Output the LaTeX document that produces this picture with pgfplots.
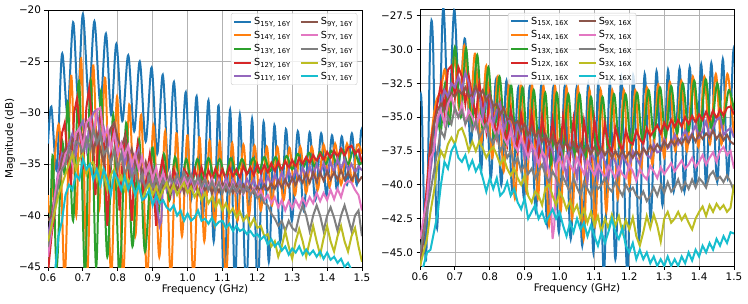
\documentclass[border=0pt]{standalone}
\usepackage{fontspec}
\setmainfont{DejaVu Sans}
\usepackage{pgfplots}
\pgfplotsset{compat=1.18}
\definecolor{c0}{HTML}{1F77B4}
\definecolor{c1}{HTML}{FF7F0E}
\definecolor{c2}{HTML}{2CA02C}
\definecolor{c3}{HTML}{D62728}
\definecolor{c4}{HTML}{9467BD}
\definecolor{c5}{HTML}{8C564B}
\definecolor{c6}{HTML}{E377C2}
\definecolor{c7}{HTML}{7F7F7F}
\definecolor{c8}{HTML}{BCBD22}
\definecolor{c9}{HTML}{17BECF}
\newcommand{\lab}[1]{S\textsubscript{#1}}
\pgfplotsset{
  myax/.style={
    scale only axis, width=314pt, height=257pt,
    xmin=0.6, xmax=1.5,
    xtick={0.6,0.7,0.8,0.9,1.0,1.1,1.2,1.3,1.4,1.5},
    xticklabels={0.6,0.7,0.8,0.9,1.0,1.1,1.2,1.3,1.4,1.5},
    xtick pos=lower, ytick pos=left, tick align=outside,
    major tick length=3.5pt,
    tick style={black, line width=0.8pt},
    axis line style={line width=0.8pt},
    grid=major, major grid style={color=black!30, line width=0.7pt},
    ticklabel style={font=\fontsize{10.4}{12}\selectfont},
    label style={font=\fontsize{10.4}{12}\selectfont},
    xlabel={Frequency (GHz)},
    xlabel style={yshift=4pt},
    every axis plot post/.append style={line width=2pt},
    legend cell align=left,
    legend columns=5, transpose legend,
    legend style={draw=black!20, rounded corners=2pt, fill=white, fill opacity=0.8, text opacity=1,
      font=\fontsize{9.7}{10.5}\selectfont, row sep=1pt, inner sep=2pt,
      /tikz/every even column/.append style={column sep=7pt}},
    legend image post style={line width=2pt},
  },
  sm/.style={smooth, tension=0.55},
}
\begin{document}
\begin{tikzpicture}
\useasboundingbox (0,0) rectangle (748pt,303pt);
% ================= LEFT =================
\begin{axis}[myax, at={(48pt,36pt)}, anchor=south west,
  ymin=-45, ymax=-20,
  ytick={-45,-40,-35,-30,-25,-20},
  yticklabels={−45,−40,−35,−30,−25,−20},
  ylabel={Magnitude (dB)}, ylabel style={yshift=-3pt},
  legend style={at={(0.985,0.988)}, anchor=north east}]
\addplot[c0, sm] coordinates {(0.600,-33.0)(0.6096,-29.4)(0.625,-35.5)(0.640,-24.3)(0.656,-30.0)(0.672,-21.2)(0.686,-28.4)(0.700,-20.4)(0.717,-28.6)(0.733,-21.1)(0.750,-29.2)(0.766,-22.3)(0.781,-30.2)(0.796,-23.3)(0.813,-30.8)(0.830,-24.4)(0.847,-31.8)(0.863,-25.0)(0.880,-32.8)(0.897,-25.6)(0.913,-34.0)(0.929,-26.3)(0.945,-35.5)(0.961,-27.0)(0.978,-37.0)(0.995,-28.0)(1.010,-38.5)(1.026,-28.4)(1.043,-40.5)(1.060,-28.8)(1.075,-42.5)(1.089,-29.3)(1.105,-47)(1.122,-29.7)(1.136,-47)(1.150,-30.2)(1.168,-47)(1.185,-30.6)(1.201,-47)(1.218,-30.9)(1.233,-44.5)(1.249,-31.2)(1.266,-42.5)(1.282,-31.6)(1.299,-40.5)(1.316,-31.8)(1.333,-39.5)(1.350,-31.9)(1.366,-38.5)(1.383,-32.0)(1.398,-38)(1.414,-32.2)(1.428,-37.5)(1.442,-32.3)(1.457,-37)(1.471,-32.0)(1.485,-37)(1.497,-31.9)(1.5,-32.3)};
\addlegendentry{\lab{15Y, 16Y}}
\addplot[c1, sm] coordinates {(0.6,-38)(0.607,-39.5)(0.632,-31.2)(0.648,-46)(0.666,-26.4)(0.681,-40)(0.695,-24.7)(0.712,-46)(0.729,-25.4)(0.746,-39.5)(0.764,-26.6)(0.781,-46)(0.798,-28.4)(0.815,-46)(0.833,-29.2)(0.850,-42)(0.867,-30.2)(0.884,-46)(0.902,-31.2)(0.919,-44)(0.936,-31.8)(0.952,-46)(0.968,-32.0)(0.984,-42)(1.000,-32.2)(1.017,-46)(1.034,-32.4)(1.048,-42.5)(1.063,-32.7)(1.078,-41)(1.093,-32.8)(1.110,-46)(1.127,-33.0)(1.143,-40.5)(1.160,-33.1)(1.176,-40)(1.192,-33.2)(1.210,-39.5)(1.227,-33.3)(1.242,-39)(1.257,-33.3)(1.275,-38.5)(1.292,-33.4)(1.308,-38)(1.323,-33.3)(1.340,-37.8)(1.356,-33.3)(1.373,-37.5)(1.390,-33.1)(1.407,-37.2)(1.423,-33.0)(1.440,-37)(1.457,-33.0)(1.472,-36.8)(1.486,-33.1)(1.5,-34)};
\addlegendentry{\lab{14Y, 16Y}}
\addplot[c2, sm] coordinates {(0.6,-46)(0.607,-40)(0.614,-34.2)(0.625,-45)(0.640,-33)(0.648,-36)(0.657,-29.0)(0.672,-40.5)(0.689,-26.9)(0.706,-45.5)(0.722,-26.8)(0.738,-45)(0.752,-27.9)(0.770,-44)(0.787,-30.2)(0.805,-45.5)(0.824,-31.0)(0.842,-43)(0.861,-32.6)(0.878,-43.5)(0.899,-33.4)(0.915,-40)(0.932,-34.0)(0.948,-38.5)(0.964,-34.3)(0.98,-37.5)(0.996,-34.5)(1.012,-37)(1.028,-34.5)(1.044,-36.5)(1.06,-34.4)(1.076,-36.3)(1.092,-34.5)(1.108,-36.2)(1.124,-34.4)(1.14,-36)(1.156,-34.5)(1.172,-35.9)(1.188,-34.4)(1.204,-35.8)(1.22,-34.3)(1.236,-35.7)(1.252,-34.3)(1.268,-35.6)(1.284,-34.2)(1.30,-35.5)(1.316,-34.0)(1.332,-35.3)(1.348,-33.9)(1.364,-35.2)(1.38,-33.8)(1.396,-35)(1.412,-33.7)(1.428,-35)(1.444,-33.6)(1.46,-35)(1.476,-33.6)(1.492,-35)(1.5,-34.6)};
\addlegendentry{\lab{13Y, 16Y}}
\addplot[c3] coordinates {(0.6,-45.5)(0.61,-42)(0.62,-39.5)(0.63,-36)(0.64,-32)(0.648,-31)(0.657,-34.5)(0.666,-37)(0.675,-30)(0.683,-28.6)(0.692,-32)(0.70,-35.5)(0.71,-29.5)(0.718,-27.6)(0.727,-31)(0.736,-38)(0.745,-32)(0.752,-29.8)(0.76,-33)(0.77,-41)(0.78,-34)(0.787,-31.6)(0.795,-33.5)(0.805,-39.5)(0.815,-34)(0.822,-32.3)(0.83,-34.5)(0.84,-40.5)(0.85,-35)(0.857,-33)(0.866,-35)(0.875,-38.5)(0.885,-35.5)(0.892,-34)(0.90,-36)(0.91,-41)(0.92,-36)(0.928,-34.5)(0.94,-36.5)(0.95,-38)(0.96,-35.5)(0.97,-36.5)(0.98,-37.5)(0.99,-35.5)(1.0,-36)(1.01,-37.2)(1.02,-35.5)(1.03,-36.5)(1.04,-35.3)(1.05,-36.6)(1.06,-35.6)(1.07,-36.5)(1.08,-35.4)(1.09,-36.4)(1.1,-35.5)(1.11,-36.5)(1.12,-35.3)(1.13,-36.2)(1.14,-35.5)(1.15,-36.3)(1.16,-35.2)(1.17,-36)(1.18,-35.3)(1.19,-36.1)(1.2,-35)(1.21,-35.9)(1.22,-35.1)(1.23,-35.8)(1.24,-34.9)(1.25,-35.7)(1.26,-34.8)(1.27,-35.6)(1.28,-34.7)(1.29,-35.4)(1.3,-34.6)(1.31,-35.3)(1.32,-34.4)(1.33,-35)(1.34,-34.3)(1.35,-34.9)(1.36,-34.1)(1.37,-34.7)(1.38,-34)(1.39,-34.6)(1.4,-33.8)(1.41,-34.4)(1.42,-33.7)(1.43,-34.3)(1.44,-33.5)(1.45,-34.2)(1.46,-33.4)(1.47,-33.2)(1.48,-34)(1.49,-33.6)(1.5,-34.8)};
\addlegendentry{\lab{12Y, 16Y}}
\addplot[c4] coordinates {(0.6,-42)(0.61,-40)(0.62,-38)(0.63,-35.5)(0.64,-34)(0.65,-34.8)(0.66,-33)(0.67,-32)(0.68,-34)(0.69,-31.5)(0.70,-30.8)(0.71,-33.5)(0.72,-31)(0.73,-30)(0.74,-29.7)(0.75,-32.5)(0.76,-31.5)(0.77,-33.5)(0.78,-31.5)(0.79,-31)(0.80,-34)(0.81,-33)(0.82,-35)(0.83,-33.5)(0.84,-36)(0.85,-34.5)(0.86,-33.5)(0.87,-36.5)(0.88,-35)(0.89,-37)(0.9,-35.5)(0.91,-38.5)(0.92,-41)(0.925,-40.5)(0.93,-36)(0.94,-37.5)(0.95,-36)(0.96,-38)(0.97,-36.5)(0.98,-37.5)(0.99,-36.2)(1.0,-37.8)(1.01,-36.3)(1.02,-37.5)(1.03,-36.5)(1.04,-37.8)(1.05,-36.4)(1.06,-37.5)(1.07,-36.6)(1.08,-37.8)(1.09,-36.5)(1.1,-37.6)(1.11,-36.3)(1.12,-37.5)(1.13,-36.5)(1.14,-37.3)(1.15,-36.6)(1.16,-37.5)(1.17,-36.4)(1.18,-37.2)(1.19,-36.5)(1.2,-37.5)(1.21,-36.3)(1.22,-37.3)(1.23,-36.2)(1.24,-37)(1.25,-36)(1.26,-37)(1.27,-35.8)(1.28,-36.8)(1.29,-35.6)(1.3,-36.6)(1.31,-35.5)(1.32,-36.5)(1.33,-35.3)(1.34,-36.3)(1.35,-35.2)(1.36,-36.2)(1.37,-35)(1.38,-36)(1.39,-34.9)(1.4,-35.9)(1.41,-34.8)(1.42,-35.8)(1.43,-34.5)(1.44,-35.5)(1.45,-34.5)(1.46,-35.6)(1.47,-35)(1.48,-35.8)(1.49,-35.2)(1.5,-35.6)};
\addlegendentry{\lab{11Y, 16Y}}
\addplot[c5] coordinates {(0.6,-40.5)(0.61,-40)(0.62,-38)(0.63,-36.5)(0.64,-34.5)(0.65,-33.5)(0.66,-34.8)(0.67,-32.5)(0.68,-33)(0.69,-31.5)(0.70,-32.5)(0.71,-30.8)(0.72,-31.8)(0.73,-34)(0.74,-32)(0.75,-33.5)(0.76,-35)(0.77,-32.5)(0.78,-31.5)(0.79,-31)(0.80,-32.5)(0.81,-33.5)(0.82,-32.3)(0.83,-34.5)(0.84,-33.5)(0.85,-35)(0.86,-34)(0.87,-36)(0.88,-34.8)(0.89,-36.5)(0.9,-35.5)(0.91,-37)(0.92,-36)(0.93,-37.5)(0.94,-36.3)(0.95,-37.8)(0.96,-36.5)(0.97,-37.5)(0.98,-36.6)(0.99,-37.8)(1.0,-36.5)(1.01,-37.5)(1.02,-36.8)(1.03,-37.9)(1.04,-36.7)(1.05,-37.6)(1.06,-36.8)(1.07,-37.8)(1.08,-36.9)(1.09,-37.7)(1.1,-36.8)(1.11,-37.6)(1.12,-36.9)(1.13,-37.8)(1.14,-37)(1.15,-37.8)(1.16,-37)(1.17,-37.6)(1.18,-37.1)(1.19,-37.8)(1.2,-37.2)(1.21,-37.6)(1.22,-37)(1.23,-37.5)(1.24,-36.9)(1.25,-37.4)(1.26,-36.6)(1.27,-37.3)(1.28,-36.5)(1.29,-37.2)(1.3,-36.3)(1.31,-37)(1.32,-36.2)(1.33,-36.8)(1.34,-35.9)(1.35,-36.8)(1.36,-35.8)(1.37,-36.7)(1.38,-35.8)(1.39,-36.6)(1.4,-35.7)(1.41,-36.5)(1.42,-35.8)(1.43,-36.5)(1.44,-35.6)(1.45,-36.5)(1.46,-35.8)(1.47,-36.6)(1.48,-35.9)(1.49,-36.7)(1.5,-36.2)};
\addlegendentry{\lab{9Y, 16Y}}
\addplot[c6] coordinates {(0.6,-44)(0.61,-41.5)(0.62,-38)(0.63,-36)(0.64,-35.5)(0.65,-34)(0.66,-33.5)(0.67,-35)(0.68,-32)(0.69,-31.5)(0.70,-33.5)(0.71,-31)(0.72,-30.5)(0.73,-32.5)(0.74,-29.8)(0.75,-29.5)(0.76,-32.5)(0.77,-31.5)(0.78,-33.5)(0.79,-32)(0.80,-34)(0.81,-33)(0.82,-34.2)(0.83,-33.2)(0.84,-35)(0.85,-34)(0.86,-35.5)(0.87,-34.3)(0.88,-36)(0.89,-35)(0.9,-36.5)(0.91,-35.3)(0.92,-36.8)(0.93,-35.8)(0.94,-37)(0.95,-36)(0.96,-37.2)(0.97,-36)(0.98,-37.3)(0.99,-36.2)(1.0,-37)(1.01,-36)(1.02,-37.3)(1.03,-36.3)(1.04,-37.5)(1.05,-36.5)(1.06,-37.3)(1.07,-36.4)(1.08,-37.5)(1.09,-36.6)(1.1,-37.6)(1.11,-36.8)(1.12,-37.7)(1.13,-36.8)(1.14,-37.8)(1.15,-37)(1.16,-37.9)(1.17,-37.2)(1.18,-38)(1.19,-37.3)(1.2,-38.2)(1.21,-37.6)(1.22,-38.5)(1.23,-38)(1.24,-38.8)(1.25,-38.2)(1.26,-39.2)(1.27,-38.5)(1.28,-39.5)(1.29,-38.6)(1.3,-39.3)(1.31,-38.5)(1.32,-39.2)(1.33,-38.3)(1.34,-39)(1.35,-38.2)(1.36,-38.8)(1.37,-37.8)(1.38,-38.6)(1.39,-37.8)(1.4,-38.5)(1.41,-37.5)(1.42,-38.4)(1.43,-37.4)(1.44,-38.2)(1.45,-37)(1.46,-36.6)(1.47,-36.8)(1.48,-37.5)(1.49,-38)(1.5,-39.5)};
\addlegendentry{\lab{7Y, 16Y}}
\addplot[c7] coordinates {(0.6,-43)(0.61,-41)(0.62,-39)(0.63,-37)(0.64,-35.5)(0.65,-35)(0.66,-33.5)(0.67,-34.5)(0.68,-32.8)(0.69,-33)(0.70,-34)(0.71,-32.5)(0.72,-33.5)(0.73,-31.5)(0.74,-33)(0.75,-32)(0.76,-34)(0.77,-33.5)(0.78,-35)(0.79,-33.5)(0.80,-35.5)(0.81,-34)(0.82,-36)(0.83,-35)(0.84,-36.5)(0.85,-35.5)(0.86,-37)(0.87,-36)(0.88,-37.5)(0.89,-36.2)(0.9,-37.3)(0.91,-36.3)(0.92,-37.5)(0.93,-36.5)(0.94,-37.2)(0.95,-36.2)(0.96,-37)(0.97,-36)(0.98,-36.8)(0.99,-35.8)(1.0,-36.6)(1.01,-36)(1.02,-37)(1.03,-36.2)(1.04,-37.2)(1.05,-36.5)(1.06,-37.5)(1.07,-36.7)(1.08,-37.6)(1.09,-36.8)(1.1,-37.8)(1.11,-37)(1.12,-37.8)(1.13,-37)(1.14,-37.7)(1.15,-37)(1.16,-37.8)(1.17,-37.2)(1.18,-38)(1.19,-37.5)(1.2,-38.3)(1.21,-38)(1.22,-38.8)(1.23,-39)(1.24,-39.8)(1.25,-40.3)(1.26,-41)(1.27,-40.5)(1.28,-41.5)(1.29,-40.5)(1.3,-41.2)(1.31,-41.5)(1.32,-40)(1.33,-39)(1.34,-40)(1.35,-41.5)(1.36,-40)(1.37,-39)(1.38,-40)(1.39,-41.5)(1.4,-40)(1.41,-39.2)(1.42,-40.2)(1.43,-41.5)(1.44,-40)(1.45,-39)(1.46,-40.2)(1.47,-41.5)(1.48,-40)(1.49,-39.5)(1.5,-42)};
\addlegendentry{\lab{5Y, 16Y}}
\addplot[c8] coordinates {(0.6,-42.5)(0.61,-41)(0.62,-39.5)(0.63,-38)(0.64,-37)(0.65,-36)(0.66,-35)(0.67,-34)(0.68,-35.5)(0.69,-34.5)(0.70,-34)(0.71,-36)(0.72,-35)(0.73,-34.8)(0.74,-36.5)(0.75,-35.2)(0.76,-36)(0.77,-37.5)(0.78,-36)(0.79,-35.5)(0.80,-37)(0.81,-36.2)(0.82,-37.5)(0.83,-36.5)(0.84,-37)(0.85,-38)(0.86,-37)(0.87,-38.5)(0.88,-37.5)(0.89,-37)(0.9,-38)(0.91,-37.2)(0.92,-38.3)(0.93,-37.5)(0.94,-36.8)(0.95,-37.8)(0.96,-37)(0.97,-38)(0.98,-37.3)(0.99,-36.8)(1.0,-37.8)(1.01,-37.2)(1.02,-38.2)(1.03,-37.5)(1.04,-38.5)(1.05,-37.8)(1.06,-38.8)(1.07,-38.2)(1.08,-39.2)(1.09,-38.5)(1.1,-39.5)(1.11,-38.8)(1.12,-39.8)(1.13,-39.3)(1.14,-40.2)(1.15,-39.6)(1.16,-40.5)(1.17,-40)(1.18,-41)(1.19,-40.3)(1.2,-41.2)(1.21,-41)(1.22,-42)(1.23,-41.8)(1.24,-43)(1.25,-42.5)(1.26,-44)(1.27,-43)(1.28,-41.5)(1.29,-43)(1.3,-44.2)(1.31,-42.5)(1.32,-41.3)(1.33,-42.5)(1.34,-44)(1.35,-42.5)(1.36,-41)(1.37,-42.5)(1.38,-43.8)(1.39,-42.2)(1.4,-41)(1.41,-42.5)(1.42,-43.5)(1.43,-42)(1.44,-41)(1.45,-42.5)(1.46,-43.5)(1.47,-42)(1.48,-41.2)(1.49,-43)(1.5,-44.5)};
\addlegendentry{\lab{3Y, 16Y}}
\addplot[c9] coordinates {(0.6,-47)(0.62,-45.5)(0.63,-42)(0.64,-40.5)(0.65,-38)(0.66,-37)(0.67,-37.5)(0.68,-36)(0.69,-36.5)(0.70,-34.5)(0.71,-35.5)(0.72,-35)(0.73,-36.5)(0.74,-35.5)(0.75,-37)(0.76,-35.5)(0.77,-36.5)(0.78,-38)(0.79,-35.8)(0.80,-36.5)(0.81,-37.5)(0.82,-36.2)(0.83,-37.5)(0.84,-36.5)(0.85,-38)(0.86,-37)(0.87,-38.5)(0.88,-38.2)(0.89,-37.5)(0.9,-39)(0.91,-38)(0.92,-38.8)(0.93,-38.5)(0.94,-39.2)(0.95,-39.5)(0.96,-39)(0.97,-40)(0.98,-39.5)(0.99,-40.5)(1.0,-39.8)(1.01,-40.5)(1.02,-40.2)(1.03,-39.5)(1.04,-40.5)(1.05,-40.3)(1.06,-40.8)(1.07,-40.2)(1.08,-41)(1.09,-40.6)(1.1,-40.5)(1.11,-41.2)(1.12,-40.8)(1.13,-41.5)(1.14,-41)(1.15,-41.5)(1.16,-41.3)(1.17,-41.8)(1.18,-41.5)(1.19,-42)(1.2,-41.8)(1.21,-42.3)(1.22,-42)(1.23,-42.8)(1.24,-42.3)(1.25,-43)(1.26,-42.6)(1.27,-43.4)(1.28,-43)(1.29,-43.8)(1.3,-43.2)(1.31,-43.6)(1.32,-43)(1.33,-43.8)(1.34,-43.3)(1.35,-43.8)(1.36,-43.4)(1.37,-44)(1.38,-43.5)(1.39,-44.2)(1.40,-43.6)(1.41,-44.3)(1.42,-44)(1.43,-44.6)(1.44,-44.2)(1.45,-45)(1.46,-44.6)(1.47,-45.3)(1.48,-45.8)(1.49,-46)(1.5,-46)};
\addlegendentry{\lab{1Y, 16Y}}
\end{axis}
% ================= RIGHT =================
\begin{axis}[myax, at={(420pt,37pt)}, anchor=south west,
  ymin=-46, ymax=-27,
  ytick={-45,-42.5,-40,-37.5,-35,-32.5,-30,-27.5},
  yticklabels={−45.0,−42.5,−40.0,−37.5,−35.0,−32.5,−30.0,−27.5},
  legend style={at={(0.28,0.985)}, anchor=north west}]
\addplot[c0, sm] coordinates {(0.6,-33.8)(0.605,-34.2)(0.617,-45.6)(0.629,-29.8)(0.637,-29.3)(0.649,-43.2)(0.666,-27.0)(0.682,-35.5)(0.698,-27.1)(0.713,-34)(0.729,-29.2)(0.745,-37)(0.761,-31.3)(0.775,-39)(0.788,-32)(0.803,-39.5)(0.818,-32.2)(0.833,-40)(0.848,-32.3)(0.865,-40.5)(0.882,-32.8)(0.898,-41)(0.915,-32.7)(0.932,-42)(0.948,-32.6)(0.965,-43)(0.982,-32.8)(0.998,-43.5)(1.015,-32.7)(1.032,-44)(1.049,-32.8)(1.065,-44.5)(1.082,-32.6)(1.097,-45)(1.111,-32.5)(1.127,-46.5)(1.144,-32.4)(1.16,-45.5)(1.177,-32.0)(1.194,-46.5)(1.211,-31.9)(1.228,-44)(1.244,-31.8)(1.261,-42.5)(1.278,-31.6)(1.295,-41.5)(1.311,-31.5)(1.327,-40.5)(1.344,-31.4)(1.358,-40.5)(1.373,-31.3)(1.39,-40)(1.406,-31.1)(1.42,-40)(1.435,-31.0)(1.452,-39.8)(1.468,-30.7)(1.482,-39.5)(1.497,-30.5)(1.5,-31)};
\addlegendentry{\lab{15X, 16X}}
\addplot[c1, sm] coordinates {(0.6,-46)(0.615,-42)(0.63,-37)(0.645,-34)(0.66,-33)(0.672,-31.5)(0.685,-35)(0.698,-30.5)(0.713,-34.5)(0.727,-29.7)(0.743,-35)(0.758,-30.3)(0.775,-37)(0.79,-31.2)(0.807,-38)(0.823,-32.0)(0.84,-39)(0.856,-32.3)(0.872,-41)(0.889,-32.5)(0.905,-40.5)(0.921,-32.6)(0.938,-41)(0.954,-32.7)(0.97,-43)(0.987,-32.7)(1.003,-42)(1.02,-32.8)(1.036,-42.5)(1.053,-32.8)(1.069,-44)(1.086,-33.0)(1.102,-43)(1.118,-33.0)(1.134,-42)(1.151,-33.0)(1.167,-41)(1.184,-33.0)(1.2,-40)(1.217,-33.0)(1.233,-39)(1.25,-32.8)(1.266,-38.5)(1.283,-32.6)(1.3,-38)(1.316,-32.4)(1.332,-37.5)(1.349,-32.3)(1.365,-37.5)(1.382,-32.0)(1.398,-37.2)(1.415,-32.0)(1.431,-37)(1.448,-31.8)(1.464,-37)(1.481,-31.8)(1.5,-36.5)};
\addlegendentry{\lab{14X, 16X}}
\addplot[c2, sm] coordinates {(0.6,-45.5)(0.615,-42)(0.63,-38)(0.64,-35.5)(0.65,-35)(0.66,-36)(0.672,-32.5)(0.685,-35.5)(0.70,-29.8)(0.717,-35)(0.732,-29.9)(0.748,-35.5)(0.764,-30.4)(0.78,-36)(0.796,-31.3)(0.812,-36.5)(0.828,-32.0)(0.845,-37)(0.861,-32.6)(0.877,-37.5)(0.894,-32.8)(0.91,-38)(0.926,-33)(0.943,-38)(0.959,-33.2)(0.975,-38.5)(0.992,-33.2)(1.008,-38)(1.025,-33.3)(1.041,-38)(1.057,-33.3)(1.074,-38)(1.09,-33.5)(1.107,-37.8)(1.123,-33.5)(1.14,-37.5)(1.156,-33.3)(1.172,-37.2)(1.189,-33.3)(1.205,-37)(1.222,-33.2)(1.238,-36.8)(1.255,-33.0)(1.271,-36.5)(1.288,-32.8)(1.304,-36.5)(1.32,-32.7)(1.337,-36.2)(1.353,-32.5)(1.37,-36)(1.386,-32.3)(1.402,-36)(1.419,-32.2)(1.435,-35.8)(1.452,-32.5)(1.468,-35.5)(1.485,-33)(1.5,-34.5)};
\addlegendentry{\lab{13X, 16X}}
\addplot[c3] coordinates {(0.6,-46)(0.61,-43)(0.62,-40)(0.63,-37)(0.64,-35.5)(0.65,-34)(0.66,-32.5)(0.67,-34.5)(0.68,-31.5)(0.69,-31.2)(0.70,-33.5)(0.71,-31.3)(0.72,-32)(0.73,-34)(0.74,-32)(0.75,-33.5)(0.76,-35)(0.77,-32.5)(0.78,-34)(0.79,-36)(0.80,-33.3)(0.81,-35)(0.82,-36.5)(0.83,-34)(0.84,-35.5)(0.85,-37)(0.86,-34.5)(0.87,-35.8)(0.88,-37.5)(0.89,-34.8)(0.9,-36.5)(0.91,-37.5)(0.92,-34.8)(0.93,-36.5)(0.94,-37.8)(0.95,-35)(0.96,-36.8)(0.97,-37.8)(0.98,-35.2)(0.99,-37)(1.0,-38)(1.01,-35)(1.02,-37)(1.03,-38)(1.04,-35.2)(1.05,-37.2)(1.06,-38.2)(1.07,-35.3)(1.08,-37)(1.09,-38)(1.10,-35.2)(1.11,-37)(1.12,-37.8)(1.13,-35.5)(1.14,-37)(1.15,-37.6)(1.16,-35.8)(1.17,-36.8)(1.18,-37.5)(1.19,-36)(1.2,-36.8)(1.21,-37)(1.22,-36)(1.23,-36.6)(1.24,-37)(1.25,-35.8)(1.26,-36.4)(1.27,-36)(1.28,-35.6)(1.29,-36.2)(1.3,-35.4)(1.31,-35.9)(1.32,-35.2)(1.33,-35.7)(1.34,-35.2)(1.35,-35.7)(1.36,-35)(1.37,-35.5)(1.38,-34.9)(1.39,-35.4)(1.4,-34.8)(1.41,-35.2)(1.42,-34.6)(1.43,-35.2)(1.44,-34.5)(1.45,-35.1)(1.46,-34.4)(1.47,-34.9)(1.48,-34.3)(1.49,-34.2)(1.5,-34.8)};
\addlegendentry{\lab{12X, 16X}}
\addplot[c4] coordinates {(0.6,-45.5)(0.61,-44)(0.62,-42)(0.63,-39)(0.64,-37)(0.65,-35.5)(0.66,-34)(0.67,-33)(0.68,-33.5)(0.69,-32.5)(0.70,-32.8)(0.71,-32)(0.72,-33)(0.73,-31.7)(0.74,-32.5)(0.75,-34)(0.76,-33)(0.77,-33.2)(0.78,-35)(0.79,-33.5)(0.80,-33.3)(0.81,-35.5)(0.82,-34.5)(0.83,-34)(0.84,-36)(0.85,-35)(0.86,-35.5)(0.87,-37)(0.88,-35.5)(0.89,-36.5)(0.9,-38)(0.91,-36)(0.92,-37)(0.93,-38.5)(0.94,-36.5)(0.95,-37.5)(0.96,-39)(0.97,-36.8)(0.98,-37.5)(0.99,-39)(1.0,-37)(1.01,-38)(1.02,-39.5)(1.03,-37)(1.04,-38)(1.05,-39.5)(1.06,-37.2)(1.07,-38)(1.08,-39.8)(1.09,-37.5)(1.1,-38.2)(1.11,-39.5)(1.12,-37.6)(1.13,-38.3)(1.14,-39.5)(1.15,-37.8)(1.16,-38.3)(1.17,-39.2)(1.18,-37.8)(1.19,-38.3)(1.2,-38.8)(1.21,-37.5)(1.22,-38)(1.23,-38.5)(1.24,-37.2)(1.25,-37.8)(1.26,-38)(1.27,-37)(1.28,-37.6)(1.29,-37.5)(1.3,-36.6)(1.31,-37.3)(1.32,-37)(1.33,-36.3)(1.34,-37)(1.35,-36.5)(1.36,-36)(1.37,-36.6)(1.38,-36.2)(1.39,-35.6)(1.40,-36.5)(1.41,-36)(1.42,-35.3)(1.43,-36.5)(1.44,-35.8)(1.45,-35.2)(1.46,-35.0)(1.47,-36.3)(1.48,-36)(1.49,-35.8)(1.5,-36.5)};
\addlegendentry{\lab{11X, 16X}}
\addplot[c5] coordinates {(0.6,-46)(0.61,-44)(0.62,-41)(0.63,-38)(0.64,-35.5)(0.65,-34.5)(0.66,-34)(0.67,-34.5)(0.68,-33.8)(0.69,-33.2)(0.70,-33.5)(0.71,-33)(0.72,-33.3)(0.73,-32.8)(0.74,-33.5)(0.75,-33.3)(0.76,-32.7)(0.77,-33.5)(0.78,-33)(0.79,-33.8)(0.80,-33.3)(0.81,-34.2)(0.82,-34)(0.83,-34.8)(0.84,-34.3)(0.85,-35.2)(0.86,-35)(0.87,-35.5)(0.88,-35.3)(0.89,-36)(0.9,-35.5)(0.91,-36.3)(0.92,-35.8)(0.93,-36.5)(0.94,-36)(0.95,-36.8)(0.96,-36.3)(0.97,-37)(0.98,-36.4)(0.99,-37.2)(1.0,-36.7)(1.01,-37.3)(1.02,-36.8)(1.03,-37.4)(1.04,-36.9)(1.05,-37.5)(1.06,-37)(1.07,-37.6)(1.08,-37.1)(1.09,-37.7)(1.1,-37.2)(1.11,-37.8)(1.12,-37.3)(1.13,-37.8)(1.14,-37.4)(1.15,-38)(1.16,-37.5)(1.17,-38)(1.18,-37.5)(1.19,-38)(1.2,-37.6)(1.21,-38)(1.22,-37.5)(1.23,-37.9)(1.24,-37.3)(1.25,-37.7)(1.26,-37.1)(1.27,-37.5)(1.28,-37)(1.29,-37.4)(1.3,-36.8)(1.31,-37.2)(1.32,-36.7)(1.33,-37.1)(1.34,-36.6)(1.35,-37)(1.36,-36.5)(1.37,-36.9)(1.38,-36.3)(1.39,-36.8)(1.4,-36.2)(1.41,-36.6)(1.42,-36.2)(1.43,-36.5)(1.44,-36)(1.45,-36.6)(1.46,-36.2)(1.47,-36.7)(1.48,-36.3)(1.49,-36.8)(1.5,-37)};
\addlegendentry{\lab{9X, 16X}}
\addplot[c6] coordinates {(0.6,-44)(0.61,-42.5)(0.62,-41)(0.63,-38)(0.64,-37.5)(0.65,-35)(0.66,-34.5)(0.67,-35.5)(0.68,-34)(0.69,-33.5)(0.70,-34.5)(0.71,-35)(0.72,-34)(0.73,-35.5)(0.74,-34.5)(0.75,-35)(0.76,-35.8)(0.77,-34.8)(0.78,-35.5)(0.79,-36)(0.80,-35)(0.81,-35.8)(0.82,-36.5)(0.83,-35.5)(0.84,-36.5)(0.85,-37)(0.86,-36)(0.87,-37)(0.88,-37.5)(0.89,-36.5)(0.9,-37.2)(0.91,-38)(0.92,-37)(0.93,-37.5)(0.94,-38.5)(0.95,-37.5)(0.96,-38)(0.97,-39)(0.98,-44)(0.985,-43)(0.99,-38.5)(1.0,-38)(1.01,-38.8)(1.02,-37.8)(1.03,-38.5)(1.04,-39)(1.05,-38)(1.06,-38.6)(1.07,-39.2)(1.08,-38.2)(1.09,-38.8)(1.1,-39.3)(1.11,-38.5)(1.12,-39)(1.13,-39.5)(1.14,-38.6)(1.15,-39)(1.16,-39.5)(1.17,-38.7)(1.18,-39.2)(1.19,-39.5)(1.2,-38.5)(1.21,-39)(1.22,-39.7)(1.23,-38.8)(1.24,-39.3)(1.25,-39.6)(1.26,-38.6)(1.27,-39)(1.28,-39.5)(1.29,-38.7)(1.3,-39.2)(1.31,-38.8)(1.32,-38.4)(1.33,-39)(1.34,-38.6)(1.35,-38.2)(1.36,-38.8)(1.37,-38.5)(1.38,-38)(1.39,-38.7)(1.4,-38.3)(1.41,-37.8)(1.42,-38.5)(1.43,-38)(1.44,-37.6)(1.45,-38.3)(1.46,-37.5)(1.47,-37.2)(1.48,-37.8)(1.49,-37.5)(1.5,-38.8)};
\addlegendentry{\lab{7X, 16X}}
\addplot[c7] coordinates {(0.6,-45)(0.61,-43.5)(0.62,-42)(0.63,-40.5)(0.64,-39)(0.65,-37.5)(0.66,-36)(0.67,-36.5)(0.68,-35)(0.69,-35.5)(0.70,-34.3)(0.71,-35)(0.72,-34.5)(0.73,-35.5)(0.74,-35)(0.75,-36)(0.76,-35.3)(0.77,-36.5)(0.78,-36)(0.79,-35.5)(0.80,-36.5)(0.81,-37)(0.82,-36.2)(0.83,-37.5)(0.84,-37)(0.85,-38)(0.86,-37.5)(0.87,-38.5)(0.88,-38)(0.89,-39)(0.9,-38.5)(0.91,-39.2)(0.92,-38.8)(0.93,-39.5)(0.94,-39)(0.95,-38.5)(0.96,-39.3)(0.97,-39.8)(0.98,-39)(0.99,-39.5)(1.0,-40.2)(1.01,-39.4)(1.02,-40)(1.03,-40.5)(1.04,-39.5)(1.05,-40.2)(1.06,-40.8)(1.07,-39.8)(1.08,-40.3)(1.09,-40.8)(1.1,-39.8)(1.11,-40.3)(1.12,-40)(1.13,-39.5)(1.14,-40.2)(1.15,-40.5)(1.16,-39.8)(1.17,-40.3)(1.18,-40.8)(1.19,-40)(1.2,-40.5)(1.21,-40.2)(1.22,-40.8)(1.23,-41)(1.24,-40.5)(1.25,-41.2)(1.26,-40.8)(1.27,-40.2)(1.28,-40.8)(1.29,-40)(1.3,-40.6)(1.31,-39.8)(1.32,-40.5)(1.33,-40.2)(1.34,-39.6)(1.35,-40.4)(1.36,-39.8)(1.37,-40.3)(1.38,-39.6)(1.39,-40.2)(1.4,-39.5)(1.41,-39.8)(1.42,-40.2)(1.43,-39.3)(1.44,-39)(1.45,-39.6)(1.46,-39.4)(1.47,-39.8)(1.48,-39.3)(1.49,-39.8)(1.5,-40.5)};
\addlegendentry{\lab{5X, 16X}}
\addplot[c8] coordinates {(0.6,-46)(0.61,-45)(0.62,-44)(0.63,-42)(0.64,-40.5)(0.65,-38.5)(0.66,-37.5)(0.67,-38)(0.68,-37)(0.69,-36.5)(0.70,-37)(0.71,-36)(0.72,-35.8)(0.73,-36.5)(0.74,-37.5)(0.75,-36.8)(0.76,-37.5)(0.77,-36.8)(0.78,-37.3)(0.79,-38)(0.80,-37.5)(0.81,-37.2)(0.82,-37.8)(0.83,-38.5)(0.84,-38)(0.85,-38.8)(0.86,-39.3)(0.87,-38.8)(0.88,-39.5)(0.89,-40)(0.9,-39.3)(0.91,-40.8)(0.92,-41.3)(0.93,-40.5)(0.94,-40.8)(0.95,-41.5)(0.96,-40.2)(0.97,-40)(0.98,-40.8)(0.99,-41.5)(1.0,-40.5)(1.01,-41)(1.02,-41.8)(1.03,-41.2)(1.04,-42)(1.05,-41.5)(1.06,-42.5)(1.07,-41.8)(1.08,-42.8)(1.09,-42)(1.1,-43)(1.11,-42.3)(1.12,-43.5)(1.13,-42.5)(1.14,-43.2)(1.15,-42.2)(1.16,-43)(1.17,-42.3)(1.18,-43.5)(1.19,-42.6)(1.2,-43.3)(1.21,-42.4)(1.22,-43.8)(1.23,-44.5)(1.24,-43.5)(1.25,-42.3)(1.26,-43.2)(1.27,-42.2)(1.28,-43)(1.29,-44.2)(1.3,-42.5)(1.31,-42)(1.32,-42.8)(1.33,-42.5)(1.34,-42)(1.35,-42.6)(1.36,-42.2)(1.37,-42.8)(1.38,-43.3)(1.39,-42.5)(1.4,-42)(1.41,-41.6)(1.42,-42.3)(1.43,-41.5)(1.44,-42)(1.45,-41.4)(1.46,-41.8)(1.47,-41.5)(1.48,-42)(1.49,-41.7)(1.5,-40)};
\addlegendentry{\lab{3X, 16X}}
\addplot[c9] coordinates {(0.6,-46.5)(0.61,-46)(0.62,-45)(0.63,-44.8)(0.64,-43.5)(0.65,-42.2)(0.66,-40)(0.67,-38.3)(0.68,-38.8)(0.69,-37.5)(0.70,-37)(0.71,-38)(0.72,-38.3)(0.73,-37.8)(0.74,-38.8)(0.75,-38.2)(0.76,-39)(0.77,-38.5)(0.78,-39.5)(0.79,-40.5)(0.80,-39.5)(0.81,-40.3)(0.82,-39.5)(0.83,-40.8)(0.84,-40.5)(0.85,-39.8)(0.86,-40.8)(0.87,-40.3)(0.88,-41.3)(0.89,-41.8)(0.9,-41)(0.91,-42.5)(0.92,-42)(0.93,-41.5)(0.94,-42.5)(0.95,-42)(0.96,-42.8)(0.97,-42.3)(0.98,-41.8)(0.99,-42.5)(1.0,-42)(1.01,-43)(1.02,-43.8)(1.03,-42.8)(1.04,-43.5)(1.05,-42.5)(1.06,-43.3)(1.07,-42.8)(1.08,-43.8)(1.09,-43)(1.1,-43.8)(1.11,-44.5)(1.12,-43.5)(1.13,-44.3)(1.14,-43.5)(1.15,-42.5)(1.16,-43.5)(1.17,-44)(1.18,-43.2)(1.19,-44.5)(1.2,-45)(1.21,-44.3)(1.22,-45.5)(1.23,-44.8)(1.24,-45.5)(1.25,-45)(1.26,-45.8)(1.27,-45.3)(1.28,-46)(1.29,-45.5)(1.3,-46)(1.31,-45.3)(1.32,-46)(1.33,-45.5)(1.34,-46)(1.35,-45.3)(1.36,-45.8)(1.37,-45)(1.38,-45.6)(1.39,-44.8)(1.4,-45.3)(1.41,-44.5)(1.42,-45)(1.43,-44.3)(1.44,-44.8)(1.45,-44)(1.46,-44.5)(1.47,-43.8)(1.48,-44.3)(1.49,-43.5)(1.5,-43.6)};
\addlegendentry{\lab{1X, 16X}}
\end{axis}
\end{tikzpicture}
\end{document}
